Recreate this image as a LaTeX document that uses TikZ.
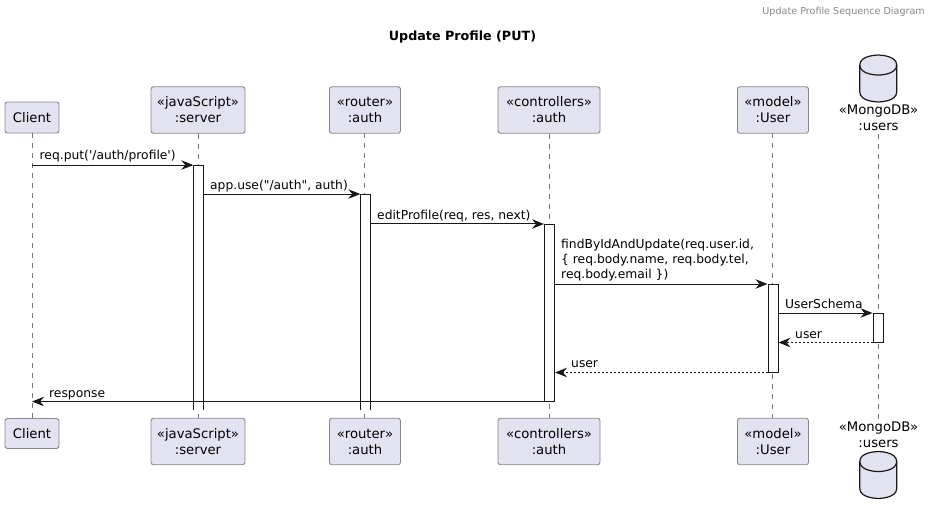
\documentclass[tikz,border=0pt]{standalone}
\usepackage{fontspec}
\setmainfont{DejaVu Sans}[Ligatures=TeXOff]
\usetikzlibrary{arrows.meta}
\tikzset{
  x=1pt,y=-1pt,
  part/.style={draw=pbord,fill=pfill,rounded corners=2.5pt,line width=0.9pt,inner sep=0pt,align=center,font=\fontsize{13.2}{16}\selectfont,text=black},
  dbtext/.style={inner sep=0pt,align=center,font=\fontsize{13.2}{16}\selectfont},
  dbbox/.style={inner sep=0pt,minimum width=36.5pt,minimum height=46.5pt},
  dbline/.style={draw=dbord,fill=pfill,line width=1.2pt},
  life/.style={draw=lifec,line width=0.7pt,dash pattern=on 5pt off 5pt},
  act/.style={draw=dbord,fill=white,line width=1pt,minimum width=10pt,inner sep=0pt},
  actopen/.style={fill=white,minimum width=10pt,inner sep=0pt},
  side/.style={draw=dbord,line width=1pt},
  msg/.style={draw=dbord,line width=1pt,-{Stealth[length=12pt,width=9.5pt,inset=4pt]}},
  ret/.style={msg,dash pattern=on 2pt off 2pt},
  lab/.style={inner sep=0pt,anchor=base west,font=\fontsize{12.3}{15}\selectfont,text=black,align=left}
}
\definecolor{pfill}{HTML}{E2E2F0}
\definecolor{pbord}{HTML}{88888F}
\definecolor{dbord}{HTML}{181818}
\definecolor{lifec}{HTML}{777777}
\definecolor{headc}{HTML}{888888}
\newcommand{\dbdraw}[1]{%
  \draw[dbline] ([yshift=-10pt]#1.north west) .. controls (#1.north west) and (#1.north) .. (#1.north)
    .. controls (#1.north) and (#1.north east) .. ([yshift=-10pt]#1.north east)
    -- ([yshift=10pt]#1.south east) .. controls (#1.south east) and (#1.south) .. (#1.south)
    .. controls (#1.south) and (#1.south west) .. ([yshift=10pt]#1.south west) -- cycle;
  \draw[dbline,fill=none] ([yshift=-10pt]#1.north west) .. controls ([yshift=-20pt]#1.north west) and ([yshift=-20pt]#1.north) .. ([yshift=-20pt]#1.north)
    .. controls ([yshift=-20pt]#1.north) and ([yshift=-20pt]#1.north east) .. ([yshift=-10pt]#1.north east);
}
\begin{document}
\begin{tikzpicture}
\useasboundingbox (0,0) rectangle (932,513);
% header and title
\node[inner sep=0pt,anchor=base east,font=\fontsize{9.6}{12}\selectfont,text=headc] (hdr) at (925,15) {Update Profile Sequence Diagram};
\node[inner sep=0pt,anchor=base,font=\bfseries\fontsize{12.7}{16}\selectfont] (ttl) at (462.5,41) {Update Profile (PUT)};
% participants, top
\node[part,minimum width=54pt,minimum height=31pt] (c1) at (32,117.5) {Client};
\node[part,minimum width=94pt,minimum height=46.5pt] (s1) at (198,110) {«javaScript»\\:server};
\node[part,minimum width=71pt,minimum height=46.5pt] (r1) at (365,110) {«router»\\:auth};
\node[part,minimum width=102pt,minimum height=46.5pt] (k1) at (549,110) {«controllers»\\:auth};
\node[part,minimum width=71pt,minimum height=46.5pt] (m1) at (773,110) {«model»\\:User};
\node[dbbox] (d1) at (878.25,78.5) {};
\dbdraw{d1}
\node[dbtext] (t1) at (878.5,118) {«MongoDB»\\:users};
% participants, bottom
\node[part,minimum width=54pt,minimum height=30pt] (c2) at (32,433.5) {Client};
\node[part,minimum width=94pt,minimum height=46.5pt] (s2) at (198,441.5) {«javaScript»\\:server};
\node[part,minimum width=71pt,minimum height=46.5pt] (r2) at (365,441.5) {«router»\\:auth};
\node[part,minimum width=102pt,minimum height=46.5pt] (k2) at (549,441.5) {«controllers»\\:auth};
\node[part,minimum width=71pt,minimum height=46.5pt] (m2) at (773,441.5) {«model»\\:User};
\node[dbtext] (t2) at (878.5,435) {«MongoDB»\\:users};
\node[dbbox] (d2) at (878.25,475) {};
\dbdraw{d2}
% lifelines
\coordinate (u1) at (878.5,134);
\coordinate (u2) at (878.5,420);
\draw[life] (c1.south) -- (c2.north);
\draw[life] (s1.south) -- (s2.north);
\draw[life] (364.5,133.5) coordinate (rt) -- (364.5,418) coordinate (rb);
\draw[life] (k1.south) -- (k2.north);
\draw[life] (772.5,133.5) coordinate (mt) -- (772.5,418) coordinate (mb);
\draw[life] (u1) -- (u2);
% activations
\node[actopen,minimum height=245pt] (as) at (198.5,287.75) {};
\draw[side] (as.south west) -- (as.north west) -- (as.north east) -- (as.south east);
\node[actopen,minimum height=216pt] (ar) at (365.5,302.25) {};
\draw[side] (ar.south west) -- (ar.north west) -- (ar.north east) -- (ar.south east);
\node[act,minimum height=176.5pt] (ak) at (549.5,312.75) {};
\node[act,minimum height=87.5pt] (am) at (773,328.25) {};
\node[act,minimum height=28.5pt] (ad) at (878,327.75) {};
% messages
\draw[msg] (c1.south |- as.north) -- (as.north west);
\draw[msg] (as.east |- ar.north) -- (ar.north west);
\draw[msg] (ar.east |- ak.north) -- (ak.north west);
\draw[msg] (ak.east |- am.north) -- (am.north west);
\draw[msg] (am.east |- ad.north) -- (ad.north west);
\draw[ret] (ad.south west) -- (am.east |- ad.south);
\draw[ret] (am.south west) -- (ak.east |- am.south);
\draw[msg] (ak.south west) -- (c1.south |- ak.south);
% labels
\node[lab] (l1) at (39.5,160) {req.put('/auth/profile')};
\node[lab] (l2) at (210,190) {app.use("/auth", auth)};
\node[lab] (l3) at (377,219.5) {editProfile(req, res, next)};
\node[lab] (l4a) at (561,249) {findByIdAndUpdate(req.user.id,};
\node[lab] (l4b) at (561,264) {\{ req.body.name, req.body.tel,};
\node[lab] (l4c) at (561,279) {req.body.email \})};
\node[lab] (l5) at (785,308.5) {UserSchema};
\node[lab] (l6) at (795,338) {user};
\node[lab] (l7) at (571,367) {user};
\node[lab] (l8) at (49,397) {response};
\end{tikzpicture}
\end{document}
